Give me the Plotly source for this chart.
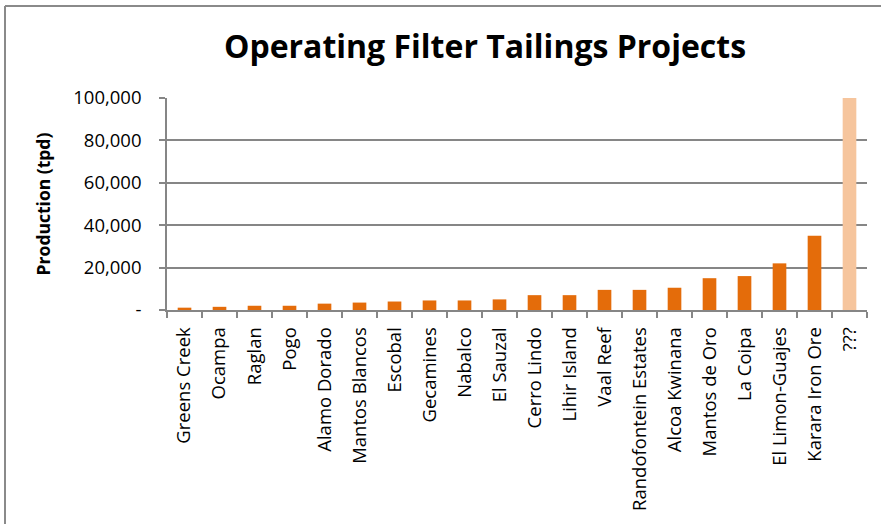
import plotly.graph_objects as go

projects = ["Greens Creek", "Ocampa", "Raglan", "Pogo", "Alamo Dorado", "Mantos Blancos",
            "Escobal", "Gecamines", "Nabalco", "El Sauzal", "Cerro Lindo", "Lihir Island",
            "Vaal Reef", "Randofontein Estates", "Alcoa Kwinana", "Mantos de Oro", "La Coipa",
            "El Limon-Guajes", "Karara Iron Ore", "???"]
production = [1100, 1500, 2000, 2000, 3000, 3500, 4000, 4500, 4500, 5000, 7000, 7000,
              9500, 9500, 10500, 15000, 16000, 22000, 35000, 100000]
bar_colors = ["#E46C0A"] * 19 + ["#F6C59D"]

ytick_vals = [0, 20000, 40000, 60000, 80000, 100000]
ytick_text = ["-", "20,000", "40,000", "60,000", "80,000", "100,000"]

fig = go.Figure(go.Bar(x=projects, y=production, marker=dict(color=bar_colors, line=dict(width=0))))

L, R, T, B = 167, 14, 98, 214
W, H = 881, 524
pw, ph = W - L - R, H - T - B

def px_x(p):
    return (p - L) / pw

def px_y(p):
    return (H - B - p) / ph

fig.update_layout(
    width=W, height=H,
    margin=dict(l=L, r=R, t=T, b=B, pad=0),
    paper_bgcolor="white", plot_bgcolor="white",
    bargap=0.61,
    showlegend=False,
    font=dict(family="Open Sans", color="#000000"),
    title=dict(text="<b>Operating Filter Tailings Projects</b>", x=px_x(485), xref="paper",
               xanchor="center", y=1 - 47 / H, yanchor="middle",
               font=dict(size=32, family="Open Sans", color="#000")),
    xaxis=dict(tickangle=-90, showline=True, linecolor="#868686", linewidth=1.6,
               ticks="outside", tickson="boundaries", ticklen=6, tickcolor="#868686",
               tickwidth=1.6, tickfont=dict(size=18.5, family="Open Sans", color="#000"),
               ticklabelstandoff=8,
               showgrid=False),
    yaxis=dict(range=[0, 100000], tickvals=ytick_vals, ticktext=ytick_text,
               showline=True, linecolor="#868686", linewidth=1.6,
               ticks="outside", ticklen=6, tickcolor="#868686", tickwidth=1.6,
               showgrid=True, gridcolor="#868686", gridwidth=1.6,
               tickfont=dict(size=18.5, family="Open Sans", color="#000"),
               ticklabelstandoff=14,
               title=dict(text="<b>Production (tpd)</b>", font=dict(size=17.5, family="Open Sans"),
                          standoff=18)),
    shapes=[
        dict(type="line", xref="paper", yref="paper", x0=px_x(5), x1=px_x(W + 5),
             y0=px_y(6), y1=px_y(6), line=dict(color="#8a8a8a", width=2)),
        dict(type="line", xref="paper", yref="paper", x0=px_x(5), x1=px_x(5),
             y0=px_y(6), y1=px_y(H + 5), line=dict(color="#8a8a8a", width=2)),
    ],
)

fig.write_html("out.html", config={"displayModeBar": False},
               post_script="document.body.style.margin='0';document.body.style.overflow='hidden';")
